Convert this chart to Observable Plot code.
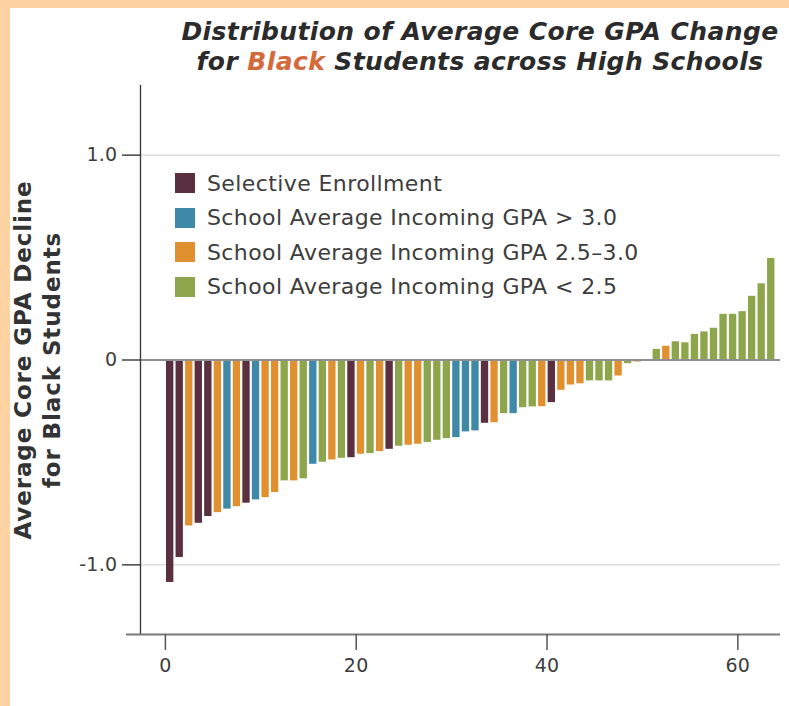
<!DOCTYPE html>
<html><head><meta charset="utf-8">
<script src="https://cdn.jsdelivr.net/npm/d3@7"></script>
<script src="https://cdn.jsdelivr.net/npm/@observablehq/plot@0.6"></script>
<style>
html,body{margin:0;padding:0;background:#fff;}
#wrap{position:relative;width:779px;height:698px;border-top:8px solid #fcd3a1;border-left:10px solid #fcd3a1;background:#fff;font-family:"DejaVu Sans",sans-serif;overflow:hidden;}
#title{height:72px;position:relative;}
#title div{position:absolute;left:120px;width:700px;top:9px;text-align:center;font-weight:bold;font-style:italic;font-size:25px;line-height:30px;color:#2b2b2b;letter-spacing:0.4px;}
#title span{color:#d4693b;}
#legend{position:absolute;left:165px;top:158px;}
.row{height:34.5px;display:flex;align-items:center;font-size:22px;color:#3d3d3d;letter-spacing:0.4px;white-space:nowrap;}
.sw{width:20px;height:20px;margin-right:12px;flex:none;}
#chart svg text{letter-spacing:0.3px;}
#chart svg g[aria-label="text"] text{letter-spacing:0.9px;}
</style></head><body>
<div id="wrap">
  <div id="title"><div>Distribution of Average Core GPA Change<br>for <span>Black</span> Students across High Schools</div></div>
  <div id="chart"></div>
  <div id="legend"></div>
</div>
<script>
const categories = [
  "Selective Enrollment",
  "School Average Incoming GPA > 3.0",
  "School Average Incoming GPA 2.5–3.0",
  "School Average Incoming GPA < 2.5"
];
const categoryKeys = ["S", "H", "M", "L"];
const colors = ["#5a2f40", "#3f89a8", "#e1902f", "#8da64c"];

// one entry per high school, sorted by GPA change
const schoolGroups = [
  "S","S","M","S","S","M","H","M","S","H","M","M","L","M","L","H",
  "L","M","L","S","M","L","M","S","L","M","M","L","L","L","H","H",
  "H","S","M","L","H","L","L","M","S","M","M","M","L","L","L","M",
  "L","M","L","L","M","L","L","L","L","L","L","L","L","L","L","L"
];
const gpaChange = [
  -1.086,-0.964,-0.810,-0.797,-0.764,-0.745,-0.728,-0.716,-0.699,-0.683,-0.672,-0.647,-0.590,-0.590,-0.580,-0.509,
  -0.499,-0.488,-0.480,-0.477,-0.460,-0.457,-0.447,-0.436,-0.421,-0.416,-0.411,-0.403,-0.392,-0.384,-0.379,-0.351,
  -0.346,-0.309,-0.306,-0.262,-0.262,-0.233,-0.229,-0.228,-0.208,-0.148,-0.122,-0.116,-0.102,-0.102,-0.102,-0.078,
  -0.018,-0.010,0.000,0.052,0.067,0.089,0.084,0.125,0.137,0.155,0.223,0.223,0.236,0.311,0.372,0.496
];
const xTicks = [0, 20, 40, 60];
const yTicks = [-1, 0, 1];
const yTitle = "Average Core GPA Decline\nfor Black Students";

const xDomain = [-2.61, 64.47];
const yDomain = [-1.34, 1.34];

const data = gpaChange.map((v, i) => ({
  school: i,
  value: v,
  group: categories[categoryKeys.indexOf(schoolGroups[i])]
}));

const plot = Plot.plot({
  width: 779,
  height: 626,
  marginLeft: 130,
  marginRight: 9,
  marginTop: 5,
  marginBottom: 72,
  style: {fontFamily: "DejaVu Sans, sans-serif", fontSize: "19px", color: "#3d3d3d", background: "transparent"},
  x: {domain: xDomain},
  y: {domain: yDomain},
  color: {domain: categories, range: colors},
  marks: [
    Plot.ruleY([1, -1], {stroke: "#dedede", strokeWidth: 1.5}),
    Plot.rectY(data, {x: "school", interval: 1, y: "value", fill: "group", insetLeft: 1.1, insetRight: 1.1}),
    Plot.ruleY([0], {stroke: "#8f8f8f", strokeWidth: 2}),
    Plot.ruleX([xDomain[0]], {stroke: "#333", strokeWidth: 1.3}),
    Plot.ruleY([yDomain[0]], {x1: xDomain[0] - 1.47, x2: xDomain[1], stroke: "#7a7a7a", strokeWidth: 2.2}),
    Plot.axisY({ticks: yTicks, tickFormat: d => d === 0 ? "0" : d.toFixed(1), tickSize: 18, tickPadding: 5, stroke: "#444", strokeWidth: 1.5, label: null}),
    Plot.axisX({ticks: xTicks, tickSize: 16, tickPadding: 8, stroke: "#555", strokeWidth: 1.5, label: null}),
    Plot.text([yTitle], {text: d => d, frameAnchor: "left", textAnchor: "middle", lineAnchor: "middle", rotate: -90, dx: -104, fontSize: 23, fontWeight: "bold", lineHeight: 1.22, fill: "#333"})
  ]
});
document.getElementById("chart").appendChild(plot);

const colorScale = plot.scale("color");
const legend = document.getElementById("legend");
categories.forEach((c, i) => {
  const row = document.createElement("div");
  row.className = "row";
  const sw = document.createElement("div");
  sw.className = "sw";
  sw.style.background = colorScale.range[i];
  const label = document.createElement("span");
  label.textContent = c;
  row.appendChild(sw);
  row.appendChild(label);
  legend.appendChild(row);
});
</script>
</body></html>
